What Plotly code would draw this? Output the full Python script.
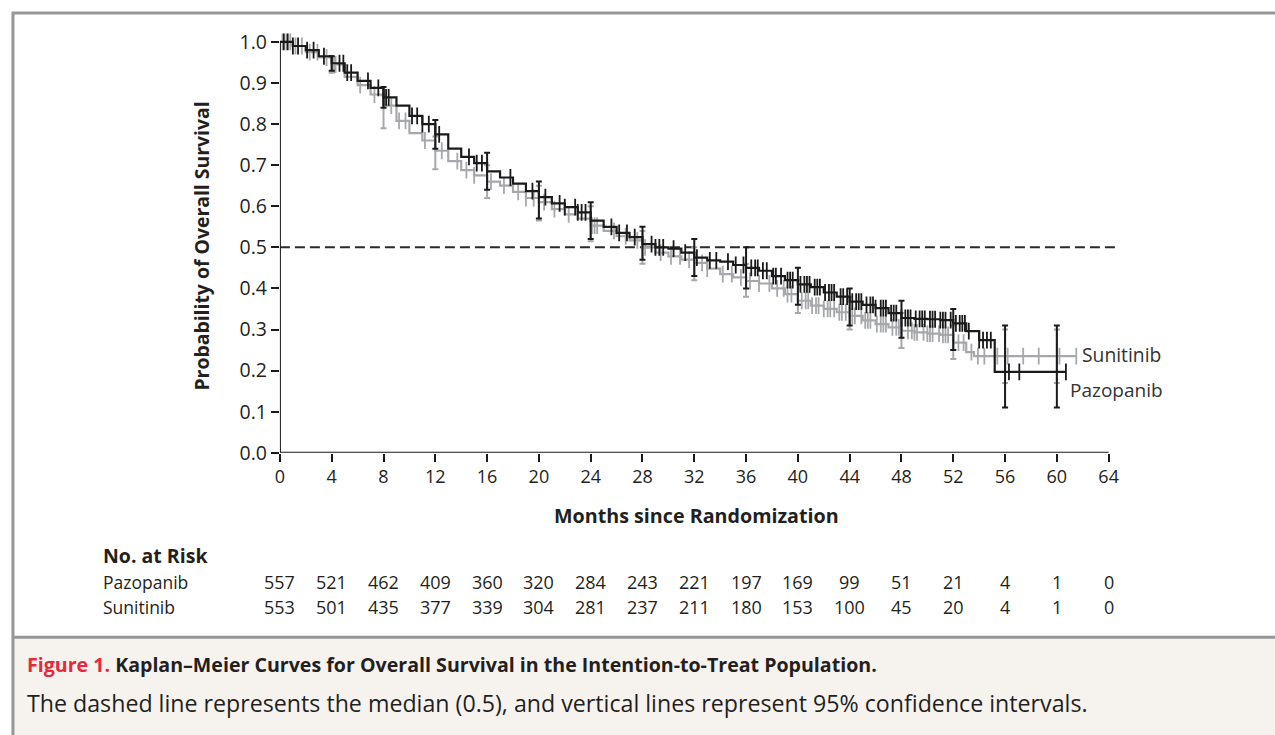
import numpy as np
import plotly.graph_objects as go

# ---------------- data ----------------
months_ticks = list(range(0, 65, 4))
y_ticks = [round(0.1 * i, 1) for i in range(11)]

paz_t = [0, 1, 2, 3, 4, 5, 6, 7, 8, 9, 10, 11, 12, 13, 14, 15, 16, 17, 18, 19, 20,
         21, 22, 23, 24, 25, 26, 27, 28, 29, 30, 31, 32, 33, 34, 35, 36, 37, 38, 39, 40,
         41, 42, 43, 44, 45, 46, 47, 48, 49, 50, 51, 52, 53, 54, 55.2, 60.7]
paz_s = [1.0, 0.99, 0.98, 0.965, 0.948, 0.925, 0.905, 0.888, 0.865, 0.845, 0.82, 0.80,
         0.775, 0.74, 0.72, 0.705, 0.685, 0.67, 0.655, 0.637, 0.622, 0.607, 0.598, 0.585,
         0.565, 0.55, 0.535, 0.525, 0.508, 0.50, 0.497, 0.487, 0.475, 0.468, 0.465, 0.457,
         0.45, 0.443, 0.43, 0.42, 0.41, 0.403, 0.39, 0.38, 0.368, 0.36, 0.352, 0.34, 0.328,
         0.326, 0.325, 0.323, 0.315, 0.296, 0.274, 0.197, 0.197]

sun_t = [0, 1, 2, 3, 4, 5, 6, 7, 8, 9, 10, 11, 12, 13, 14, 15, 16, 17, 18, 19, 20,
         21, 22, 23, 24, 25, 26, 27, 28, 29, 30, 31, 32, 33, 34, 35, 36, 37, 38, 39, 40,
         41, 42, 43, 44, 45, 46, 47, 48, 49, 50, 51, 52, 53, 53.6, 61.5]
sun_s = [1.0, 0.99, 0.975, 0.962, 0.945, 0.915, 0.895, 0.872, 0.845, 0.808, 0.778, 0.76,
         0.735, 0.71, 0.688, 0.675, 0.66, 0.65, 0.635, 0.62, 0.61, 0.593, 0.58, 0.57,
         0.553, 0.54, 0.527, 0.517, 0.50, 0.487, 0.478, 0.47, 0.462, 0.448, 0.435, 0.427,
         0.418, 0.412, 0.40, 0.386, 0.37, 0.358, 0.35, 0.342, 0.333, 0.322, 0.313, 0.305,
         0.297, 0.293, 0.29, 0.287, 0.268, 0.245, 0.235, 0.235]

paz_censor = [0.3, 0.6, 1.0, 1.4, 2.1, 2.6, 3.4, 4.6, 4.9, 5.2, 5.5, 6.8, 7.6, 8.0, 8.2, 8.4,
              10.2, 10.6, 11.0, 11.5, 12.3, 14.6, 15.2, 15.6, 17.8, 19.5, 20.5, 21.6, 22.0,
              22.8, 23.0, 23.3, 23.6, 25.6, 26.2, 26.8, 27.4, 28.7, 29.0, 29.3, 29.6, 30.4,
              31.3, 32.2, 33.2, 33.7, 34.6, 35.2, 35.8, 36.4, 36.7, 36.9, 37.3, 37.6, 38.1,
              38.3, 38.7, 39.2, 39.4, 39.6, 40.2, 40.5, 40.7, 40.9, 41.3, 41.5, 41.7, 42.1,
              42.4, 42.6, 42.8, 43.3, 43.5, 43.8, 44.2, 44.5, 44.7, 44.9, 45.3, 45.6, 45.8,
              46.0, 46.4, 46.6, 46.8, 47.2, 47.4, 47.6, 48.0, 48.3, 48.5, 48.7, 49.1, 49.4,
              49.6, 49.8, 50.2, 50.4, 50.6, 51.0, 51.2, 51.4, 51.8, 52.2, 52.5, 52.7, 52.9,
              53.2, 54.0, 54.3, 54.6, 54.9, 56.3, 57.1, 60.7]
sun_censor = [0.2, 0.5, 0.8, 1.2, 1.7, 2.3, 2.9, 3.6, 4.0, 4.1, 4.2, 4.3, 6.2, 7.3, 8.6, 9.2,
              9.7, 11.2, 12.5, 13.7, 14.4, 15.0, 16.3, 17.3, 18.4, 19.0, 19.6, 20.4, 21.2,
              22.3, 24.1, 24.3, 24.5, 25.8, 26.7, 27.6, 28.2, 29.4, 30.2, 30.9, 31.6, 32.6,
              33.0, 34.2, 34.9, 35.6, 36.3, 37.0, 37.8, 38.4, 38.9, 39.2, 39.5, 40.0, 40.3,
              40.6, 40.8, 41.1, 41.4, 41.6, 42.0, 42.3, 42.5, 42.8, 43.2, 43.4, 43.7, 44.0,
              44.2, 44.4, 44.9, 45.2, 45.4, 45.6, 46.1, 46.4, 46.6, 46.8, 47.3, 47.6, 47.8,
              48.0, 48.5, 48.8, 49.0, 49.2, 49.7, 50.0, 50.2, 50.4, 50.9, 51.2, 51.4, 51.6,
              52.0, 52.4, 52.8, 53.4, 53.9, 54.4, 55.4, 56.2, 57.4, 58.6, 60.2, 61.5]

paz_ci_t = [4, 8, 12, 16, 20, 24, 28, 32, 36, 40, 44, 48, 52, 56, 60]
paz_ci_lo = [0.93, 0.84, 0.74, 0.64, 0.57, 0.52, 0.47, 0.43, 0.40, 0.36, 0.31, 0.28, 0.25, 0.11, 0.11]
paz_ci_hi = [0.965, 0.89, 0.81, 0.73, 0.66, 0.61, 0.55, 0.52, 0.50, 0.45, 0.40, 0.37, 0.35, 0.31, 0.31]
sun_ci_t = [4, 8, 12, 16, 20, 24, 28, 32, 36, 40, 44, 48, 52, 56, 60]
sun_ci_lo = [0.925, 0.79, 0.69, 0.62, 0.565, 0.515, 0.46, 0.42, 0.38, 0.34, 0.30, 0.255, 0.228, 0.17, 0.17]
sun_ci_hi = [0.965, 0.87, 0.77, 0.70, 0.65, 0.60, 0.54, 0.50, 0.46, 0.42, 0.38, 0.34, 0.31, 0.30, 0.30]

risk_paz = [557, 521, 462, 409, 360, 320, 284, 243, 221, 197, 169, 99, 51, 21, 4, 1, 0]
risk_sun = [553, 501, 435, 377, 339, 304, 281, 237, 211, 180, 153, 100, 45, 20, 4, 1, 0]

median_level = 0.5
median_end = 64.8

# ---------------- styling ----------------
W, H = 1275, 748          # layout size (the capture is rescaled to 735 tall)
REF_H = 735               # reference pixel grid used for positioning
FONT = "Open Sans"
TXT = "#231f20"
BLACK = "#1a1a1a"
GRAY = "#a6a8ab"


def px(xp):
    return xp / W


def py(yp):
    return 1 - yp / REF_H


def step_lookup(t, s, c):
    t = np.asarray(t)
    idx = np.searchsorted(t, np.asarray(c), side="right") - 1
    return np.asarray(s)[idx]


fig = go.Figure()


def add_arm(t, s, cens, ci_t, ci_lo, ci_hi, color):
    fig.add_trace(go.Scatter(x=t, y=s, mode="lines", line=dict(color=color, width=2.2, shape="hv"),
                             hoverinfo="skip"))
    cy = step_lookup(t, s, cens)
    fig.add_trace(go.Scatter(x=cens, y=cy, mode="markers",
                             marker=dict(symbol="line-ns", size=12, line=dict(color=color, width=1.8)),
                             hoverinfo="skip"))
    ymid = step_lookup(t, s, ci_t)
    hi = np.array(ci_hi) - ymid
    lo = ymid - np.array(ci_lo)
    fig.add_trace(go.Scatter(x=ci_t, y=ymid, mode="markers",
                             marker=dict(size=1, color=color, opacity=0),
                             error_y=dict(type="data", symmetric=False, array=hi, arrayminus=lo,
                                          color=color, thickness=2, width=3),
                             hoverinfo="skip"))


add_arm(sun_t, sun_s, sun_censor, sun_ci_t, sun_ci_lo, sun_ci_hi, GRAY)
add_arm(paz_t, paz_s, paz_censor, paz_ci_t, paz_ci_lo, paz_ci_hi, BLACK)

x0p, x64p = 276, 1108
ppm = (x64p - x0p) / 64
xmax = 65.5
y0p, y1p = 452, 40
ppu = (y0p - y1p)
ymax = 1.03

fig.update_layout(
    width=W, height=H, margin=dict(l=0, r=0, t=0, b=0),
    paper_bgcolor="white", plot_bgcolor="white", showlegend=False,
    font=dict(family=FONT, color=TXT),
    xaxis=dict(domain=[px(x0p), px(x0p + ppm * xmax)], range=[0, xmax],
               tickvals=months_ticks, ticktext=[str(m) for m in months_ticks],
               ticks="outside", ticklen=8, tickwidth=2, tickcolor=BLACK,
               showgrid=False, zeroline=False, showline=False,
               tickfont=dict(size=18, color=TXT, family=FONT)),
    yaxis=dict(domain=[py(y0p), py(y0p - ppu * ymax)], range=[0, ymax],
               tickvals=y_ticks, ticktext=[f"{v:.1f}" for v in y_ticks],
               ticks="outside", ticklen=8, tickwidth=2, tickcolor=BLACK,
               showgrid=False, zeroline=False, showline=False,
               tickfont=dict(size=19.5, color=TXT, family=FONT)),
)

shapes = []
shapes.append(dict(type="rect", xref="paper", yref="paper", x0=px(9), x1=1, y0=0, y1=py(638),
                   fillcolor="#f6f3ef", line=dict(width=0), layer="below"))
shapes.append(dict(type="line", xref="paper", yref="paper", x0=px(7), x1=1, y0=py(11), y1=py(11),
                   line=dict(color="#979797", width=3)))
shapes.append(dict(type="line", xref="paper", yref="paper", x0=px(8), x1=px(8), y0=py(10), y1=0,
                   line=dict(color="#979797", width=3)))
shapes.append(dict(type="line", xref="paper", yref="paper", x0=px(8), x1=1, y0=py(637), y1=py(637),
                   line=dict(color="#979797", width=3)))
shapes.append(dict(type="line", xref="x", yref="y", x0=0, x1=median_end, y0=median_level, y1=median_level,
                   line=dict(color="#2a2a2a", width=2, dash="10px,5px"), layer="below"))
shapes.append(dict(type="line", xref="x", yref="y", x0=0, x1=64, y0=0, y1=0,
                   line=dict(color=BLACK, width=2)))
shapes.append(dict(type="line", xref="x", yref="y", x0=0, x1=0, y0=0, y1=1.0,
                   line=dict(color=BLACK, width=2)))
fig.update_layout(shapes=shapes)

ann = []


def add_text(text, x, y, size, xanchor="left", xref="paper", color=TXT, angle=0):
    ann.append(dict(text=text, xref=xref, yref="paper", x=x, y=y, showarrow=False,
                    textangle=angle, font=dict(size=size, color=color),
                    xanchor=xanchor, yanchor="middle", borderpad=0))


add_text("<b>Probability of Overall Survival</b>", px(197), py(245), 19.4, "center", angle=-90)
add_text("<b>Months since Randomization</b>", px(694), py(515), 19.7, "center")
add_text("Sunitinib", px(1080), py(353), 19.3, color="#333")
add_text("Pazopanib", px(1068), py(389), 19, color="#333")
add_text("<b>No. at Risk</b>", px(97), py(555), 19.5)
add_text("Pazopanib", px(97), py(582), 17.5)
add_text("Sunitinib", px(97), py(607), 17.5)
for m, a, b in zip(months_ticks, risk_paz, risk_sun):
    add_text(str(a), m, py(582), 18, "center", xref="x")
    add_text(str(b), m, py(607), 18, "center", xref="x")
add_text("<span style='color:#e8283a'><b>Figure 1.</b></span> <b>Kaplan–Meier Curves for Overall Survival in the Intention-to-Treat Population.</b>",
         px(21), py(664), 19.6)
add_text("The dashed line represents the median (0.5), and vertical lines represent 95% confidence intervals.",
         px(21), py(703), 23.2)
fig.update_layout(annotations=ann)

fig.write_html("out.html")
